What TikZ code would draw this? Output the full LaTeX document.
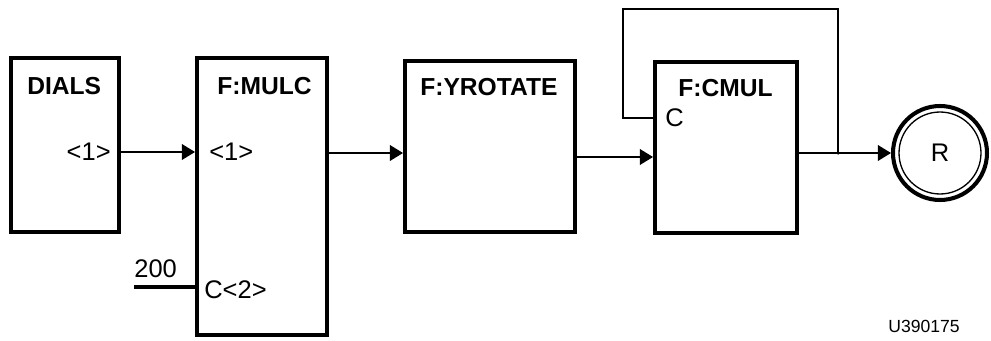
\documentclass[tikz,border=0pt]{standalone}
\usepackage{fontspec}
\setmainfont{Liberation Sans}
\usetikzlibrary{positioning,arrows.meta}

\begin{document}
\begin{tikzpicture}[
    x=0.02cm, y=-0.02cm,
    >={Triangle[length=7.5pt,width=9pt]},
    every node/.style={font=\fontsize{14.5}{16}\selectfont, inner sep=0pt},
    box/.style={draw, line width=2.2pt, anchor=north west},
    title/.style={font=\fontsize{14}{16}\selectfont\bfseries, anchor=base west},
    port/.style={anchor=west},
    wire/.style={line width=0.75pt}
]
\useasboundingbox (0,0) rectangle (991,341);

% blocks
\node[box, minimum width=2.16cm, minimum height=3.48cm] (dials) at (9,56) {};
\node[box, minimum width=2.6cm, minimum height=5.54cm] (mulc) at (195,56) {};
\node[box, minimum width=3.4cm, minimum height=3.42cm] (yrot) at (403,59) {};
\node[box, minimum width=2.84cm, minimum height=3.42cm] (cmul) at (653,60) {};
\node[draw, circle, line width=2.3pt, minimum size=1.88cm] (R) at (940,153) {R};
\draw[wire] (R.center) circle (0.82cm);

\node[title] (tdials) at (27,95) {DIALS};
\node[title] (tmulc) at (217,95) {F:MULC};
\node[title] (tyrot) at (420,96) {F:YROTATE};
\node[title] (tcmul) at (678,97) {F:CMUL};

% ports
\node[anchor=east] (d1) at (111,152) {<1>};
\node[port] (m1) at (209,152) {<1>};
\node[port] (m2) at (204,290) {C<2>};
\node[port] (cc) at (665,118) {C};
\node[anchor=base west] (v200) at (134,277) {200};
\coordinate (in200) at (134,287);
\coordinate (jn) at (838,153);
\coordinate (loopl) at (623,9);

% connectors
\draw[->, wire] (dials.east |- d1) -- (mulc.west |- d1);
\draw[->, wire] (mulc.east |- 0,153) -- (yrot.west |- 0,153);
\draw[->, wire] (yrot.east |- 0,157) -- (cmul.west |- 0,157);
\draw[line width=1.8pt] (in200) -- (in200 -| mulc.west);
\draw[->, wire] (cmul.east |- R) -- (R);
\draw[wire] (jn) |- (loopl) |- (cmul.west |- cc);
\fill (jn) circle (1pt);

\node[font=\fontsize{10}{12}\selectfont, anchor=base west] (tag) at (888,332) {U390175};
\end{tikzpicture}
\end{document}
